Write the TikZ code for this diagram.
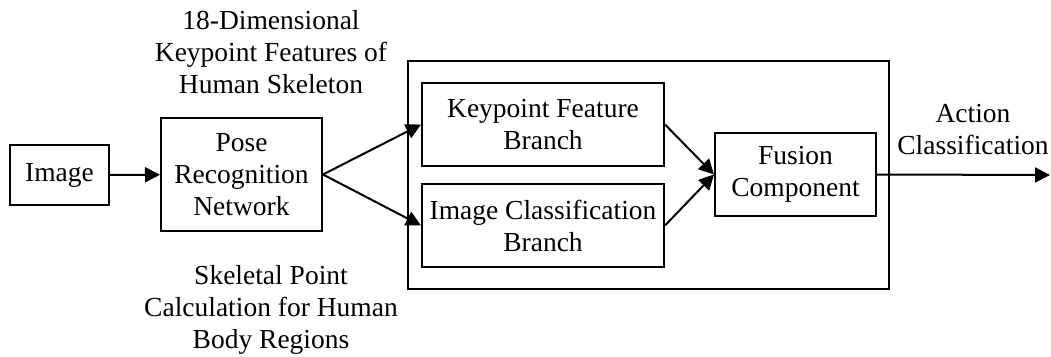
\documentclass[tikz,border=0pt]{standalone}
\usepackage{fontspec}
\setmainfont{Liberation Serif}
\usetikzlibrary{arrows.meta}
\begin{document}
\begin{tikzpicture}[x=1pt,y=-1pt,
  lbl/.style={font=\fontsize{27.5}{32}\selectfont, align=center, inner sep=0pt},
  box/.style={lbl, draw, line width=2pt},
  flow/.style={line width=2pt, -{Triangle[length=15pt,width=15pt]}}]
  \path[use as bounding box] (0,0) rectangle (1051,356);

  % outer frame of the classification stage
  \node[draw, line width=2pt, minimum width=481pt, minimum height=228pt, inner sep=0pt] (stage) at (648.5,175) {};

  \node[box, minimum width=99pt, minimum height=60pt] (img) at (59.5,175) {Image};
  \node[box, minimum width=161pt, minimum height=113pt] (pose) at (241.5,174.5) {Pose\\Recognition\\Network};
  \node[box, minimum width=242pt, minimum height=83pt] (kfb) at (543,124.5) {Keypoint Feature\\Branch};
  \node[box, minimum width=242pt, minimum height=83pt] (icb) at (543,225.5) {Image Classification\\Branch};
  \node[box, minimum width=161pt, minimum height=83pt] (fus) at (795.5,174.5) {Fusion\\Component};

  \node[lbl] (toplbl) at (271,52) {18-Dimensional\\Keypoint Features of\\Human Skeleton};
  \node[lbl] (botlbl) at (271,310) {Skeletal Point\\Calculation for Human\\Body Regions};
  \node[lbl] (act) at (973,130) {Action\\Classification};

  \coordinate (out) at (1050,175);

  \draw[flow] (img) -- (pose);
  \draw[flow] (pose.east) -- (kfb.west);
  \draw[flow] (pose.east) -- (icb.west);
  \draw[flow] (kfb.east) -- (fus.west);
  \draw[flow] (icb.east) -- (fus.west);
  \draw[flow] (fus.east) -- (out);
\end{tikzpicture}
\end{document}
